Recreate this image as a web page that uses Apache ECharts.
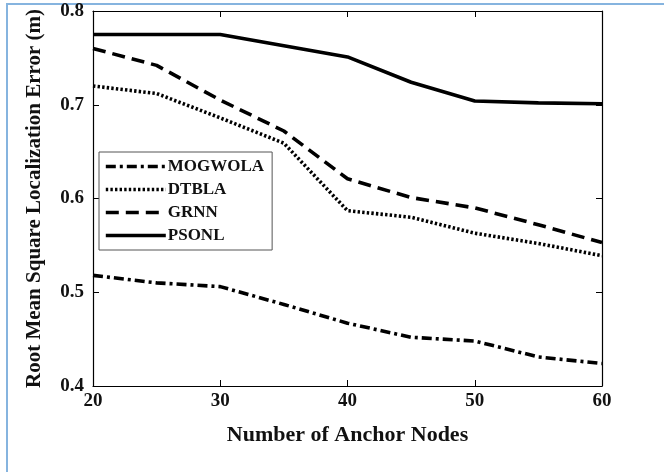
<!DOCTYPE html>
<html>
<head>
<meta charset="utf-8">
<script src="https://cdn.jsdelivr.net/npm/echarts@6/dist/echarts.min.js"></script>
<style>
html,body{margin:0;padding:0;background:#fff;}
#chart{position:absolute;left:0;top:0;width:664px;height:472px;}
#bt{position:absolute;left:6px;top:3px;width:658px;height:2px;background:#86b4df;}
#bl{position:absolute;left:6px;top:3px;width:2px;height:469px;background:#86b4df;}
</style>
</head>
<body>
<div id="bt"></div><div id="bl"></div>
<div id="chart"></div>
<script>
const anchorNodes = [20, 25, 30, 35, 40, 45, 50, 55, 60];
const MOGWOLA = [0.518, 0.510, 0.506, 0.487, 0.467, 0.452, 0.448, 0.431, 0.424];
const DTBLA   = [0.720, 0.712, 0.686, 0.659, 0.587, 0.580, 0.563, 0.552, 0.539];
const GRNN    = [0.760, 0.742, 0.705, 0.672, 0.621, 0.601, 0.590, 0.572, 0.553];
const PSONL   = [0.775, 0.775, 0.775, 0.763, 0.751, 0.724, 0.704, 0.702, 0.701];
const xTicks = [20, 30, 40, 50, 60];
const yTicks = [0.4, 0.5, 0.6, 0.7, 0.8];

const FONT = 'Liberation Serif';
const pairs = arr => anchorNodes.map((x, i) => [x, arr[i]]);

const chart = echarts.init(document.getElementById('chart'), null, {renderer: 'canvas'});
const mk = (name, data, type) => ({
  name, type: 'line', data: pairs(data), symbol: 'none', smooth: false,
  lineStyle: {color: '#000', width: 3.6, type: type, cap: 'butt'},
  itemStyle: {color: '#000'}
});
chart.setOption({
  animation: false,
  grid: {left: 93, right: 62, top: 11, bottom: 86},
  xAxis: [{
    type: 'value', min: xTicks[0], max: xTicks[xTicks.length-1], interval: 10,
    name: 'Number of Anchor Nodes', nameLocation: 'middle', nameGap: 38,
    nameTextStyle: {fontFamily: FONT, fontWeight: 'bold', fontSize: 22, color: '#111'},
    axisLine: {show: true, lineStyle: {color: '#000', width: 1.2}},
    axisTick: {show: true, inside: true, length: 6, lineStyle: {color: '#000'}},
    axisLabel: {fontFamily: FONT, fontWeight: 'bold', fontSize: 19, color: '#111', margin: 6},
    splitLine: {show: false}
  }, {
    type: 'value', position: 'top', min: xTicks[0], max: xTicks[xTicks.length-1], interval: 10,
    axisLine: {show: true, lineStyle: {color: '#000', width: 1.2}},
    axisTick: {show: true, inside: true, length: 6, lineStyle: {color: '#000'}},
    axisLabel: {show: false}, splitLine: {show: false}
  }],
  yAxis: [{
    type: 'value', min: yTicks[0], max: yTicks[yTicks.length-1], interval: 0.1,
    name: 'Root Mean Square Localization Error (m)', nameLocation: 'middle', nameGap: 48,
    nameTextStyle: {fontFamily: FONT, fontWeight: 'bold', fontSize: 21, color: '#111'},
    axisLine: {show: true, lineStyle: {color: '#000', width: 1.2}},
    axisTick: {show: true, inside: true, length: 6, lineStyle: {color: '#000'}},
    axisLabel: {fontFamily: FONT, fontWeight: 'bold', fontSize: 19, color: '#111', margin: 9,
      formatter: v => v.toFixed(1)},
    splitLine: {show: false}
  }, {
    type: 'value', position: 'right', min: yTicks[0], max: yTicks[yTicks.length-1], interval: 0.1,
    axisLine: {show: true, lineStyle: {color: '#000', width: 1.2}},
    axisTick: {show: true, inside: true, length: 6, lineStyle: {color: '#000'}},
    axisLabel: {show: false}, splitLine: {show: false}
  }],
  legend: {
    orient: 'vertical', left: 99, top: 152, width: 173,
    padding: [6, 8, 6, 5], itemGap: 6, itemWidth: 60, itemHeight: 18,
    backgroundColor: '#fff', borderColor: '#555', borderWidth: 1, borderRadius: 0,
    itemStyle: {opacity: 0},
    lineStyle: {width: 3.6},
    textStyle: {fontFamily: FONT, fontWeight: 'bold', fontSize: 17, color: '#111', padding: [0,0,0,-3]},
    data: ['MOGWOLA', 'DTBLA', 'GRNN', 'PSONL']
  },
  series: [
    mk('MOGWOLA', MOGWOLA, [10, 4, 3, 4]),
    mk('DTBLA', DTBLA, [2.4, 2.2]),
    mk('GRNN', GRNN, [13, 7]),
    mk('PSONL', PSONL, 'solid')
  ]
});
</script>
</body>
</html>
